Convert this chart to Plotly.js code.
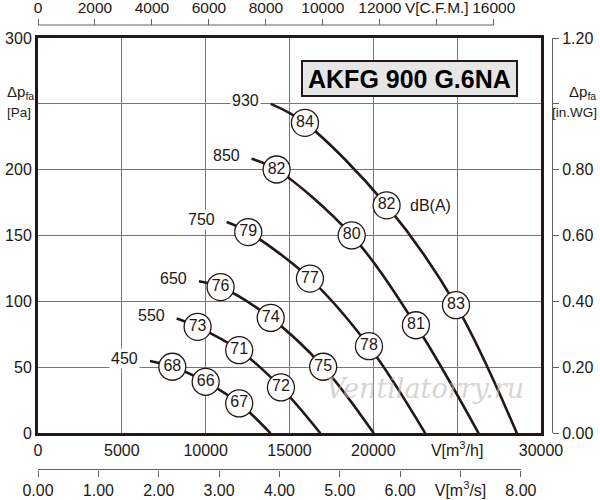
<!DOCTYPE html>
<html>
<head>
<meta charset="utf-8">
<script src="https://cdn.plot.ly/plotly-3.0.1.min.js"></script>
<style>
  html, body { margin: 0; padding: 0; background: #ffffff; }
  #chart { width: 600px; height: 500px; }
</style>
</head>
<body>
<div id="chart"></div>
<script>
// fan curves, flow in m3/h and static pressure in Pa
// dB values sit on the points that carry a circle, null elsewhere
const rpm = [450, 550, 650, 750, 850, 930];

const q450 = [6680, 8010, 10000, 12000, 13870];
const p450 = [54.8, 50.5, 39.1, 22.7, 0];
const db450 = [null, 68, 66, 67, null];

const q550 = [8270, 9520, 12000, 14490, 16840];
const p550 = [87.1, 80.8, 63.1, 34.8, 0];
const db550 = [null, 73, 71, 72, null];

const q650 = [9600, 10890, 13880, 17010, 20030];
const p650 = [115.4, 111, 87.6, 50.5, 0];
const db650 = [null, 76, 74, 75, null];

const q750 = [11250, 12540, 16220, 19740, 23100];
const p750 = [160.3, 152.7, 117.4, 66.1, 0];
const db750 = [null, 79, 77, 78, null];

const q850 = [12740, 14230, 18710, 22540, 26280];
const p850 = [208.3, 200.2, 150.2, 82, 0];
const db850 = [null, 82, 80, 81, null];

const q930 = [13880, 15920, 20790, 24930, 28560];
const p930 = [250, 235.6, 173, 97.2, 0];
const db930 = [null, 84, 82, 83, null];

// axis ticks
const m3hTicks = [0, 5000, 10000, 15000, 20000, 25000, 30000];
const m3hText = ['0', '5000', '10000', '15000', '20000', 'V[m<sup>3</sup>/h]', '30000'];
const paTicks = [0, 50, 100, 150, 200, 250, 300];
const paText = ['0', '50', '100', '150', '200', '', '300'];
const inwgTicks = [0, 0.2, 0.4, 0.6, 0.8, 1.0, 1.2];
const inwgText = ['0.00', '0.20', '0.40', '0.60', '0.80', '', '1.20'];
const cfmTicks = [0, 2000, 4000, 6000, 8000, 10000, 12000, 14000, 16000];
const cfmText = ['0', '2000', '4000', '6000', '8000', '10000', '12000', 'V[C.F.M.]', '16000'];
const m3sTicks = [0, 1, 2, 3, 4, 5, 6, 7, 8];
const m3sText = ['0.00', '1.00', '2.00', '3.00', '4.00', '5.00', '6.00', 'V[m<sup>3</sup>/s]', '8.00'];

const ink = '#231815';
const gridCol = '#80756a';
const scaleCol = '#6b6058';
const fontFam = 'Liberation Sans, Arial, sans-serif';

const curves = [
    [q450, p450, db450],
    [q550, p550, db550],
    [q650, p650, db650],
    [q750, p750, db750],
    [q850, p850, db850],
    [q930, p930, db930],
];

let data = [];
let annotations = [];

curves.forEach(function (c, i) {
    data.push({
        x: c[0], y: c[1],
        mode: 'lines',
        line: { color: ink, width: 2.6, shape: 'spline', smoothing: 1 },
        hoverinfo: 'skip',
    });
    annotations.push({ // rpm label
        x: c[0][0], y: c[1][0], xref: 'x', yref: 'y',
        xanchor: 'right', yanchor: 'middle', xshift: -10, yshift: 3,
        showarrow: false, bgcolor: '#ffffff', borderpad: 1,
        text: String(rpm[i]),
        font: { family: fontFam, size: 16, color: ink },
    });
});

// circles with dB(A) values
curves.forEach(function (c) {
    let cx = [], cy = [], ct = [];
    c[2].forEach(function (v, j) {
        if (v !== null) { cx.push(c[0][j]); cy.push(c[1][j]); ct.push(String(v)); }
    });
    data.push({
        x: cx, y: cy, text: ct,
        mode: 'markers+text',
        textposition: 'middle center',
        textfont: { family: fontFam, size: 16, color: ink },
        marker: { size: 27, color: '#ffffff', line: { color: ink, width: 1.3 } },
        hoverinfo: 'skip',
    });
});

// dummy traces so the extra axes get drawn
data.push({ x: [], y: [], xaxis: 'x2', yaxis: 'y', hoverinfo: 'skip' });
data.push({ x: [], y: [], xaxis: 'x3', yaxis: 'y', hoverinfo: 'skip' });
data.push({ x: [], y: [], xaxis: 'x', yaxis: 'y2', hoverinfo: 'skip' });

annotations.push({ // dB(A) next to the middle circle of the top curve
    x: q930[2], y: p930[2], xref: 'x', yref: 'y',
    xanchor: 'left', yanchor: 'middle', xshift: 21, showarrow: false,
    text: 'dB(A)', font: { family: fontFam, size: 16, color: ink },
});
annotations.push({ // title
    x: 409.5 / 600, y: 1 - 79 / 500, xref: 'paper', yref: 'paper',
    xanchor: 'center', yanchor: 'middle',
    showarrow: false, text: '<b>AKFG 900 G.6NA</b>',
    font: { family: fontFam, size: 25, color: '#000000' },
});
annotations.push({
    x: 5 / 600, y: 1 - 93 / 500, xref: 'paper', yref: 'paper',
    xanchor: 'left', yanchor: 'middle',
    showarrow: false, text: 'Δp<sub>fa</sub>',
    font: { family: fontFam, size: 15, color: ink },
});
annotations.push({
    x: 5 / 600, y: 1 - 113 / 500, xref: 'paper', yref: 'paper',
    xanchor: 'left', yanchor: 'middle',
    showarrow: false, text: '[Pa]',
    font: { family: fontFam, size: 13.5, color: ink },
});
annotations.push({
    x: 598 / 600, y: 1 - 93 / 500, xref: 'paper', yref: 'paper',
    xanchor: 'right', yanchor: 'middle',
    showarrow: false, text: 'Δp<sub>fa</sub>',
    font: { family: fontFam, size: 15, color: ink },
});
annotations.push({
    x: 599 / 600, y: 1 - 113 / 500, xref: 'paper', yref: 'paper',
    xanchor: 'right', yanchor: 'middle',
    showarrow: false, text: '[in.WG]',
    font: { family: fontFam, size: 13.5, color: ink },
});
annotations.push({ // watermark
    x: 425 / 600, y: 1 - 388 / 500, xref: 'paper', yref: 'paper',
    xanchor: 'center', yanchor: 'middle',
    showarrow: false, text: '<i>Ventilatorry.ru</i>',
    font: { family: 'DejaVu Serif, serif', size: 27, color: 'rgba(185,185,185,0.6)' },
});

const tickFont = { family: fontFam, size: 16, color: ink };
const topFont = { family: fontFam, size: 15.5, color: ink };
const xDom = [38 / 600, 541 / 600];
const yDom = [1 - 433.3 / 500, 1 - 38 / 500];

let layout = {
    width: 600,
    height: 500,
    margin: { l: 0, r: 0, t: 0, b: 0, pad: 0 },
    paper_bgcolor: '#ffffff',
    plot_bgcolor: '#ffffff',
    showlegend: false,
    xaxis: {
        domain: xDom, range: [0, 30000],
        tickmode: 'array', tickvals: m3hTicks, ticktext: m3hText, tickangle: 0,
        showgrid: true, gridcolor: gridCol, gridwidth: 1, zeroline: false,
        showline: true, mirror: true, linecolor: ink, linewidth: 3,
        ticks: '', tickfont: tickFont, fixedrange: true,
    },
    yaxis: {
        domain: yDom, range: [0, 300],
        tickmode: 'array', tickvals: paTicks, ticktext: paText,
        showgrid: true, gridcolor: gridCol, gridwidth: 1, zeroline: false,
        showline: true, mirror: true, linecolor: ink, linewidth: 3,
        ticks: '', tickfont: tickFont, fixedrange: true,
    },
    xaxis2: { // C.F.M. scale on top
        overlaying: 'x', anchor: 'free', position: 1 - 25 / 500, side: 'top',
        range: [0, 30000 / 1.699],
        tickmode: 'array', tickvals: cfmTicks, ticktext: cfmText, tickangle: 0,
        showgrid: false, zeroline: false, showline: false,
        ticks: 'outside', ticklen: 6, tickwidth: 1, tickcolor: scaleCol,
        tickfont: topFont, fixedrange: true,
    },
    xaxis3: { // m3/s scale at the bottom
        overlaying: 'x', anchor: 'free', position: 1 - 469.5 / 500, side: 'bottom',
        range: [0, 30000 / 3600],
        tickmode: 'array', tickvals: m3sTicks, ticktext: m3sText, tickangle: 0,
        showgrid: false, zeroline: false, showline: false,
        ticks: 'outside', ticklen: 6, tickwidth: 1, tickcolor: scaleCol,
        tickfont: tickFont, fixedrange: true,
    },
    yaxis2: { // in.WG scale on the right
        overlaying: 'y', anchor: 'free', position: 552 / 600, side: 'right',
        range: [0, 1.2],
        tickmode: 'array', tickvals: inwgTicks, ticktext: inwgText,
        showgrid: false, zeroline: false,
        showline: true, linecolor: scaleCol, linewidth: 1,
        ticks: 'outside', ticklen: 6, tickwidth: 1, tickcolor: scaleCol,
        tickfont: tickFont, fixedrange: true,
    },
    shapes: [
        { // axis line of the C.F.M. scale
            type: 'line', xref: 'x2', yref: 'paper',
            x0: cfmTicks[0], x1: cfmTicks[cfmTicks.length - 1], y0: 1 - 25 / 500, y1: 1 - 25 / 500,
            line: { color: scaleCol, width: 1 },
        },
        { // axis line of the m3/s scale
            type: 'line', xref: 'x3', yref: 'paper',
            x0: m3sTicks[0], x1: m3sTicks[m3sTicks.length - 1], y0: 1 - 469.5 / 500, y1: 1 - 469.5 / 500,
            line: { color: scaleCol, width: 1 },
        },
        { // title box
            type: 'rect', xref: 'paper', yref: 'paper',
            x0: 302 / 600, x1: 517 / 600, y0: 1 - 96 / 500, y1: 1 - 61 / 500,
            fillcolor: '#e6e6e6', line: { color: ink, width: 2 },
        },
    ],
    annotations: annotations,
};

const config = { staticPlot: true, displayModeBar: false };

Plotly.newPlot('chart', data, layout, config);
</script>
</body>
</html>
